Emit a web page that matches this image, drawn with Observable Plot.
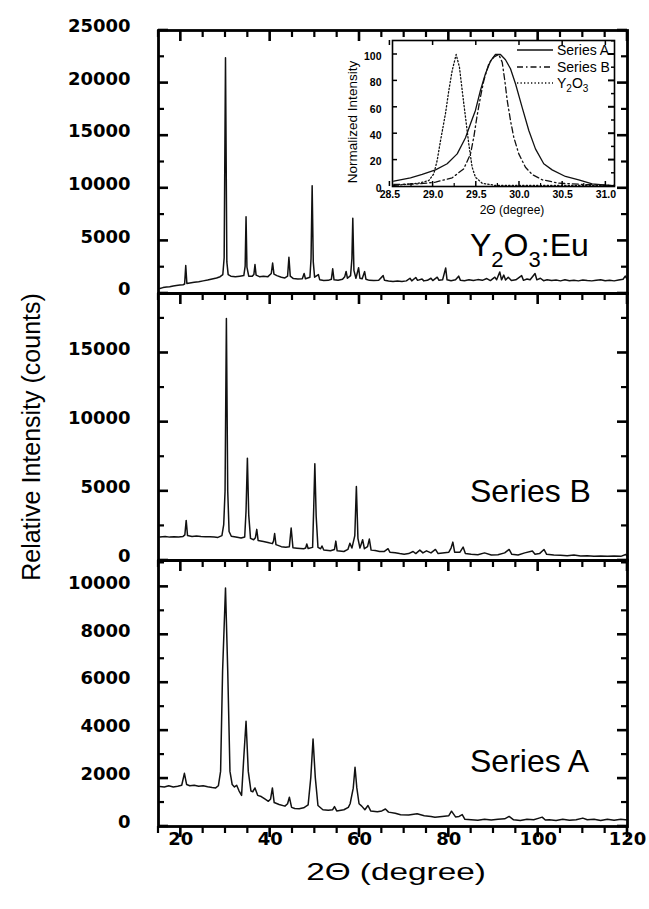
<!DOCTYPE html>
<html><head><meta charset="utf-8">
<script src="https://cdn.jsdelivr.net/npm/d3@7"></script>
<script src="https://cdn.jsdelivr.net/npm/@observablehq/plot@0.6"></script>
<style>
html,body{margin:0;padding:0;background:#fff;}
#chart{position:relative;width:649px;height:909px;background:#fff;overflow:hidden;}
#chart svg{position:absolute;background:none;overflow:visible;}
</style></head><body><div id="chart"></div>
<script>
// ---------- data: [2theta, counts] ----------
const seriesEu = [[15.3,480],[16,560],[16.8,620],[17.5,650],[18.3,720],[19,760],[19.8,800],[20.5,830],[20.85,900],[21.1,2650],[21.35,950],[22,1000],[23,1060],[24,1120],[25,1200],[26,1280],[27,1380],[28,1480],[28.8,1600],[29.4,1800],[29.7,3400],[30.0,22400],[30.3,3000],[30.6,1800],[31.2,1650],[32.2,1600],[33.2,1650],[34.1,1700],[34.4,2600],[34.6,7300],[34.8,2500],[35.2,1650],[36.0,1650],[36.35,1800],[36.6,2750],[36.85,1750],[37.6,1600],[38.5,1650],[39.5,1600],[40.25,1900],[40.55,2900],[40.85,1850],[41.5,1700],[42.5,1550],[43.3,1480],[43.9,1650],[44.2,3450],[44.5,1650],[45.2,1420],[46.2,1380],[47.2,1400],[47.6,1900],[47.9,1400],[48.9,1550],[49.15,3300],[49.4,10250],[49.65,3000],[49.95,1550],[50.8,1800],[51.1,1300],[52,1230],[53,1250],[53.7,1350],[54.0,2350],[54.3,1300],[55.2,1250],[56.2,1350],[56.7,1600],[57.0,2100],[57.3,1450],[58.0,1700],[58.3,3300],[58.5,7150],[58.75,2200],[59.2,1450],[59.8,2450],[60.1,1450],[60.6,1400],[61.15,2080],[61.45,1350],[62.2,1250],[63.2,1230],[64.3,1250],[65.3,1700],[65.6,1250],[66.5,1180],[67.5,1150],[68.5,1180],[69.5,1150],[70.5,1200],[71.3,1450],[71.7,1200],[72.6,1520],[73.0,1250],[74.0,1380],[74.4,1200],[75.2,1250],[76.0,1450],[76.4,1230],[77.4,1550],[77.8,1250],[78.6,1300],[79.3,2420],[79.6,1300],[80.5,1220],[81.5,1300],[82.2,1650],[82.6,1250],[83.5,1220],[84.5,1300],[85.5,1230],[86.5,1320],[87.5,1250],[88.5,1420],[89.3,1230],[90.3,1550],[90.7,1300],[91.4,2050],[91.8,1300],[92.3,1750],[92.7,1280],[93.3,1550],[94.0,1230],[95.0,1300],[96.3,1700],[96.7,1250],[97.5,1380],[98.2,1300],[99.3,1900],[99.7,1300],[100.5,1450],[101.2,1220],[102.0,1300],[103.0,1230],[104.0,1280],[105.0,1200],[106.0,1300],[107.0,1220],[108.0,1260],[109.0,1200],[110.0,1280],[111.0,1230],[112.0,1200],[113.0,1270],[114.0,1300],[115.0,1220],[116.0,1250],[117.0,1200],[118.0,1280],[119.0,1350],[119.5,1650],[120,1300]];

const seriesB = [[15.3,1700],[16.5,1730],[17.5,1690],[18.5,1720],[19.5,1700],[20.5,1740],[20.9,1850],[21.2,2900],[21.5,1800],[22.5,1740],[23.5,1770],[24.5,1740],[25.5,1720],[26.5,1710],[27.5,1690],[28.3,1670],[29.2,1800],[29.6,2600],[29.9,5000],[30.2,17500],[30.5,5000],[30.8,2100],[31.3,1750],[32.3,1700],[33.5,1620],[34.3,1700],[34.6,3600],[34.9,7400],[35.2,3300],[35.6,1600],[36.3,1500],[36.7,1650],[37.0,2250],[37.3,1450],[38.5,1380],[39.5,1300],[40.5,1220],[40.75,1400],[41.0,1950],[41.3,1150],[42.5,1000],[43.5,950],[44.3,1000],[44.7,2350],[45.1,920],[46,890],[47.5,850],[47.95,900],[48.2,1200],[48.5,870],[49.5,950],[49.75,3800],[50.0,7000],[50.3,3200],[50.7,950],[51.3,850],[51.6,1050],[52.0,760],[53.5,700],[54.4,800],[54.7,1400],[55.0,700],[56.5,650],[57.4,800],[57.85,1250],[58.3,900],[58.95,1800],[59.3,5350],[59.65,1600],[60.1,900],[60.7,1500],[61.1,850],[61.8,1000],[62.2,1550],[62.6,750],[63.5,720],[64.5,650],[65.5,650],[66.4,850],[66.8,600],[68,560],[69,500],[70,460],[71,500],[72,650],[72.6,500],[73.5,750],[74.2,550],[75,700],[76,550],[77,800],[77.6,500],[78.6,550],[80,600],[80.5,900],[80.9,1330],[81.3,600],[82.5,600],[83.2,970],[83.7,500],[85,450],[86.5,420],[88,550],[89.5,400],[91,420],[92.5,550],[93.5,800],[94.1,450],[95.5,400],[97,550],[98.7,680],[99.3,450],[100.3,500],[101.3,800],[101.9,450],[103.5,400],[105,380],[106.5,350],[108,400],[109.5,330],[111,350],[112.5,300],[114,320],[115.5,300],[117,320],[118.5,300],[119.6,430],[120,300]];

const seriesA = [[15.3,1670],[16.3,1650],[17.3,1700],[18.3,1650],[19.3,1680],[20.2,1720],[20.8,2220],[21.3,1750],[22,1700],[23,1720],[24,1680],[25,1700],[26,1660],[27,1630],[27.8,1610],[28.4,1700],[28.9,2300],[29.35,6500],[30.0,9950],[30.5,6500],[31.0,2300],[31.5,1750],[32.0,1650],[32.5,1720],[33.0,1500],[33.6,1300],[34.1,2900],[34.6,4390],[35.1,2300],[35.7,1480],[36.1,1450],[36.6,1610],[37.2,1300],[38,1250],[38.8,1150],[39.6,1050],[40.1,1150],[40.5,1610],[40.9,1000],[42,920],[43.3,850],[43.9,950],[44.3,1220],[44.8,800],[45.5,750],[46.5,740],[47.5,780],[48.5,900],[49.1,2050],[49.6,3650],[50.1,2050],[50.7,875],[51.8,700],[53,680],[54.0,700],[54.4,830],[54.9,650],[56.5,700],[57.5,800],[57.9,950],[58.6,1600],[59.0,2470],[59.4,1610],[59.9,950],[60.5,850],[61.2,700],[61.9,875],[62.5,650],[64,620],[65,650],[65.8,730],[66.5,600],[68,550],[69.2,490],[71,480],[72.9,530],[74.5,450],[76,420],[76.9,390],[78.5,420],[80,450],[80.6,640],[81.5,400],[82.3,420],[83,500],[83.6,300],[85,280],[86.5,260],[88,300],[89.5,270],[91,300],[92.5,320],[93.5,420],[94.5,280],[96,250],[97.5,300],[99,280],[100.2,350],[100.9,390],[101.6,270],[102.5,280],[104,250],[105.5,300],[107,260],[108.5,280],[110,350],[111,280],[112.5,300],[114,250],[115.5,300],[117,260],[118.5,300],[120,270]];

// inset: [2theta, normalized intensity]
const insetA = [[28.545,4.0],[28.738,6.6],[28.874,9.1],[29.028,12.6],[29.163,17.2],[29.279,24.7],[29.375,36.9],[29.433,47.5],[29.49,57.6],[29.548,72.7],[29.606,85.4],[29.664,94.9],[29.722,100],[29.78,100],[29.838,96],[29.896,89.2],[29.954,77.8],[30.03,60.1],[30.108,42.4],[30.185,28.5],[30.281,17.2],[30.378,12.6],[30.532,7.6],[30.686,5.1],[30.841,2.0],[31.1,0.5]];
const insetB = [[28.545,1.5],[28.834,2.0],[29.028,3.3],[29.221,6.6],[29.355,13.4],[29.433,24.7],[29.471,37.3],[29.51,53.8],[29.548,67.7],[29.587,80.3],[29.645,93],[29.702,98],[29.76,100],[29.8,94.2],[29.83,80.3],[29.858,65.2],[29.896,50],[29.934,37.3],[29.992,24.7],[30.069,14.6],[30.147,9.1],[30.263,5.1],[30.455,2.5],[30.764,1.5],[31.1,0.8]];
const insetY2O3 = [[28.545,0.8],[28.834,2.5],[28.95,4.5],[29.008,9.6],[29.047,19.7],[29.086,34.8],[29.143,55.1],[29.182,72.7],[29.221,87.9],[29.267,100],[29.305,90.4],[29.337,72.7],[29.375,52.5],[29.413,32.3],[29.452,14.6],[29.49,7.0],[29.568,2.5],[29.722,0.8],[31.1,0.8]];

// ---------- ticks ----------
const xMajorTicks = [20,40,60,80,100,120];
const xMinorTicks = [15,25,30,35,45,50,55,65,70,75,85,90,95,105,110,115];
const yTicksEu = [0,5000,10000,15000,20000,25000];
const yMinorEu = [2500,7500,12500,17500,22500];
const yTicksB = [0,5000,10000,15000];
const yMinorB = [2500,7500,12500,17500];
const yTicksA = [0,2000,4000,6000,8000,10000];
const yMinorA = [1000,3000,5000,7000,9000,11000];
const insetXTicks = [28.5,29.0,29.5,30.0,30.5,31.0];
const insetXMinor = [28.75,29.25,29.75,30.25,30.75];
const insetYTicks = [0,20,40,60,80,100];
const insetYMinor = [10,30,50,70,90,110];

// ---------- layout ----------
const W = 649, ML = 158, MR = 22;
const X_DOMAIN = [15, 120];
const root = document.getElementById("chart");
const plots = [];

function panel(data, {yDomain, yMajor, yMinor, top, bottom, last}) {
  const mt = 12, mb = last ? 40 : 12;
  const innerH = bottom - top;
  const marks = [
    Plot.line(data, {x: d => d[0], y: d => d[1], stroke: "#111", strokeWidth: 1.5, strokeLinejoin: "round"}),
    Plot.axisY({ticks: yMajor, tickSize: 0, tickPadding: 28, label: null, tickFormat: d => String(d), dy: -4}),
    Plot.frame({stroke: "#000", strokeWidth: 2.8})
  ];
  if (last) {
    marks.push(Plot.axisX({ticks: xMajorTicks, tickSize: 0, tickPadding: 6, label: null, tickFormat: d => String(d)}));
  }
  const svg = Plot.plot({
    width: W, height: innerH + mt + mb,
    marginLeft: ML, marginRight: MR, marginTop: mt, marginBottom: mb,
    x: last ? {domain: X_DOMAIN} : {domain: X_DOMAIN, axis: null},
    y: {domain: yDomain},
    style: {fontFamily: "'DejaVu Sans', sans-serif", fontWeight: "bold", fontSize: "18px", color: "#000", background: "none", overflow: "visible"},
    marks
  });
  svg.style.left = "0px";
  svg.style.top = (top - mt) + "px";
  root.appendChild(svg);
  const spec = [
    {side: "left", values: yMajor, len: 10, w: 2.6},
    {side: "left", values: yMinor, len: 6, w: 2.2},
    {side: "right", values: yMajor, len: 10, w: 2.6},
    {side: "right", values: yMinor, len: 6, w: 2.2},
    {side: "top", values: xMajorTicks, len: 11, w: 2.6},
    {side: "top", values: xMinorTicks, len: 7, w: 2.2}
  ];
  if (last) spec.push({side: "bottomOut", values: xMajorTicks, len: 11, w: 2.6},
                      {side: "bottomOut", values: xMinorTicks, len: 7, w: 2.2});
  plots.push({svg, left: 0, top: top - mt, spec});
}

panel(seriesEu, {yDomain: [0, 25000], yMajor: yTicksEu, yMinor: yMinorEu, top: 30, bottom: 293});
panel(seriesB, {yDomain: [0, 19300], yMajor: yTicksB, yMinor: yMinorB, top: 293, bottom: 560});
panel(seriesA, {yDomain: [0, 11100], yMajor: yTicksA, yMinor: yMinorA, top: 560, bottom: 826, last: true});

// ---------- inset ----------
(function inset() {
  const L = 392, R = 614, T = 40, B = 186;
  const sL = 300, sT = 25, sW = 340, sH = 200;
  const pt = {x: d => d[0], y: d => d[1]};
  const svg = Plot.plot({
    width: sW, height: sH,
    marginLeft: L - sL, marginRight: sW - (R - sL), marginTop: T - sT, marginBottom: sH - (B - sT),
    x: {domain: [28.53, 31.1]},
    y: {domain: [0, 110.6]},
    style: {fontFamily: "'Liberation Sans', Arial, sans-serif", fontWeight: "bold", fontSize: "10.5px", color: "#000", background: "none", overflow: "visible"},
    marks: [
      Plot.line(insetY2O3, {...pt, stroke: "#111", strokeWidth: 1.3, strokeDasharray: "1.3,2.2"}),
      Plot.line(insetB, {...pt, stroke: "#111", strokeWidth: 1.3, strokeDasharray: "6,3,1.5,3"}),
      Plot.line(insetA, {...pt, stroke: "#111", strokeWidth: 1.3}),
      Plot.axisY({ticks: insetYTicks, tickSize: 0, tickPadding: 11, label: null, tickFormat: d => String(d), dy: 2}),
      Plot.axisX({ticks: insetXTicks, tickSize: 0, tickPadding: 4, label: null, tickFormat: d3.format(".1f")}),
      Plot.frame({stroke: "#000", strokeWidth: 1.6})
    ]
  });
  svg.style.left = sL + "px";
  svg.style.top = sT + "px";
  root.appendChild(svg);
  plots.push({svg, left: sL, top: sT, spec: [
    {side: "right", values: insetYTicks, len: 6, w: 2},
    {side: "right", values: insetYMinor, len: 3, w: 1.5},
    {side: "left", values: insetYTicks, len: 5, w: 1.5},
    {side: "bottomIn", values: insetXTicks, len: 5, w: 1.5},
    {side: "bottomIn", values: insetXMinor, len: 3, w: 1.2},
    {side: "top", values: insetXTicks, len: 5, w: 1.5}
  ]});
})();

// ---------- overlay: frame ticks placed with Plot's own scales, titles, labels, inset legend ----------
const ov = d3.select(root).append("svg")
  .attr("width", W).attr("height", 909)
  .style("left", "0px").style("top", "0px")
  .attr("font-family", "'Liberation Sans', Arial, sans-serif")
  .attr("fill", "#000");

function mapper(sc, offset) {
  const [d0, d1] = sc.domain, [r0, r1] = sc.range;
  return v => offset + r0 + (v - d0) / (d1 - d0) * (r1 - r0);
}
const tickG = ov.append("g").attr("stroke", "#000").attr("stroke-linecap", "butt");
plots.forEach(p => {
  const sx = p.svg.scale("x"), sy = p.svg.scale("y");
  const fx = mapper(sx, p.left), fy = mapper(sy, p.top);
  const X0 = fx(sx.domain[0]), X1 = fx(sx.domain[1]);
  const Yb = fy(sy.domain[0]), Yt = fy(sy.domain[1]);
  p.spec.forEach(s => {
    s.values.forEach(v => {
      let x1, x2, y1, y2;
      if (s.side === "left")      { x1 = X0; x2 = X0 + s.len; y1 = y2 = fy(v); }
      if (s.side === "right")     { x1 = X1 - s.len; x2 = X1; y1 = y2 = fy(v); }
      if (s.side === "top")       { x1 = x2 = fx(v); y1 = Yt; y2 = Yt + s.len; }
      if (s.side === "bottomIn")  { x1 = x2 = fx(v); y1 = Yb; y2 = Yb - s.len; }
      if (s.side === "bottomOut") { x1 = x2 = fx(v); y1 = Yb; y2 = Yb + s.len; }
      tickG.append("line").attr("x1", x1).attr("x2", x2).attr("y1", y1).attr("y2", y2)
        .attr("stroke-width", s.w);
    });
  });
});

ov.append("text").attr("transform", "translate(40,437) rotate(-90)")
  .attr("text-anchor", "middle").attr("font-size", 25).text("Relative Intensity (counts)");
ov.append("text").attr("transform", "translate(396,880) scale(1.45,1)")
  .attr("text-anchor", "middle").attr("font-size", 23).text("2\u0398 (degree)");

const euLbl = ov.append("text").attr("x", 470).attr("y", 256).attr("font-size", 32);
euLbl.append("tspan").text("Y");
euLbl.append("tspan").attr("font-size", 22).attr("dy", 11).text("2");
euLbl.append("tspan").attr("dy", -11).text("O");
euLbl.append("tspan").attr("font-size", 22).attr("dy", 11).text("3");
euLbl.append("tspan").attr("dy", -11).text(":Eu");

ov.append("text").attr("x", 470).attr("y", 502).attr("font-size", 32).text("Series B");
ov.append("text").attr("x", 470).attr("y", 772).attr("font-size", 32).text("Series A");

ov.append("text").attr("transform", "translate(357,122) rotate(-90)")
  .attr("text-anchor", "middle").attr("font-size", 13.5).text("Normalized Intensity");
ov.append("text").attr("x", 512).attr("y", 214)
  .attr("text-anchor", "middle").attr("font-size", 12).text("2\u0398 (degree)");

const legendItems = [
  {label: "Series A", dash: null, y: 50},
  {label: "Series B", dash: "6,3,1.5,3", y: 67},
  {label: "Y2O3", dash: "1.3,2.2", y: 83}
];
legendItems.forEach(it => {
  const ln = ov.append("line").attr("x1", 517).attr("x2", 553).attr("y1", it.y).attr("y2", it.y)
    .attr("stroke", "#111").attr("stroke-width", 1.3);
  if (it.dash) ln.attr("stroke-dasharray", it.dash);
  const t = ov.append("text").attr("x", 557).attr("y", it.y + 5).attr("font-size", 14);
  if (it.label === "Y2O3") {
    t.append("tspan").text("Y");
    t.append("tspan").attr("font-size", 10).attr("dy", 4).text("2");
    t.append("tspan").attr("dy", -4).text("O");
    t.append("tspan").attr("font-size", 10).attr("dy", 4).text("3");
  } else {
    t.text(it.label);
  }
});
</script></body></html>
